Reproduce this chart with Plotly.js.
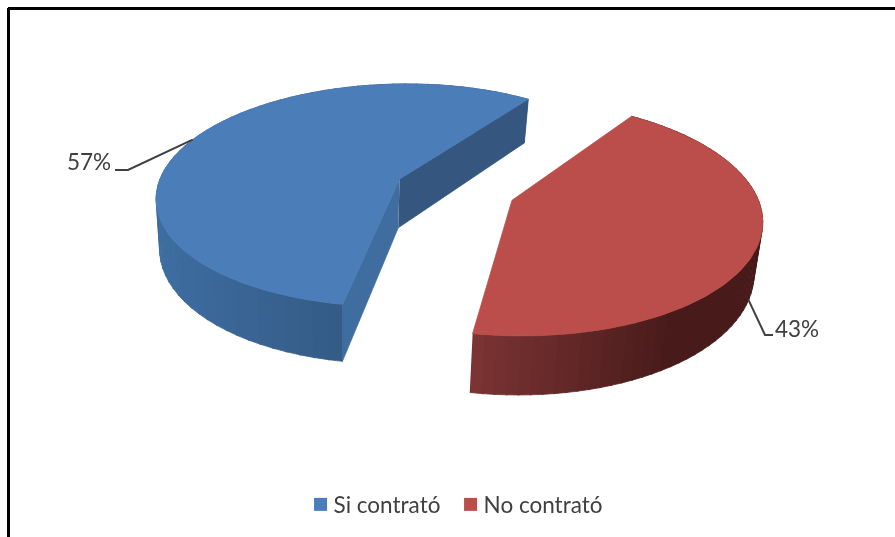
<!DOCTYPE html>
<html>
<head>
<meta charset="utf-8">
<script src="https://cdn.plot.ly/plotly-3.0.1.min.js"></script>
<style>
html,body{margin:0;padding:0;background:#fff;overflow:hidden}
#chart{width:895px;height:537px;filter:blur(0.6px)}
</style>
</head>
<body>
<div id="chart"></div>
<script>
// ---- chart values ----
const categories = ['Si contrató', 'No contrató'];
const shares = [57, 43];
const topColors = ['#4b7db9', '#bb4e4a'];
const wallLeft = ['#3e6da1', '#7b3333'];
const wallRight = ['#335a84', '#481a1a'];
const cutColors = ['#34567f', '#3f6d9f'];

// ---- perspective projection of the exploded pie disc onto the page ----
const discX = 455, discY = 189.5, radX = 243, radY = 112, persp = 0.148;
const explode = 0.25, depth = 49.5, bottomScale = 0.98, bottomShift = -2.5, startAngle = 55;

function toPage(u, v, bottom) {
  const w = 1 + persp * v;
  const s = bottom ? bottomScale : 1;
  return [discX + (bottom ? bottomShift : 0) + s * radX * u / w,
          discY - radY * v / w + (bottom ? depth / w : 0)];
}
function rimPoint(deg, mid, bottom) {
  const r = Math.PI / 180;
  return toPage(explode * Math.cos(mid * r) + Math.cos(deg * r),
                explode * Math.sin(mid * r) + Math.sin(deg * r), bottom);
}
function apexPoint(mid, bottom) {
  const r = Math.PI / 180;
  return toPage(explode * Math.cos(mid * r), explode * Math.sin(mid * r), bottom);
}
function hexMix(a, b, f) {
  const p = h => [1, 3, 5].map(k => parseInt(h.substr(k, 2), 16));
  const A = p(a), B = p(b);
  return 'rgb(' + A.map((c, k) => Math.round(c + (B[k] - c) * f)).join(',') + ')';
}
function poly(pts, color) {
  return {x: pts.map(p => p[0]), y: pts.map(p => p[1]), mode: 'lines', fill: 'toself',
          fillcolor: color, line: {color: color, width: 0.8}, hoverinfo: 'skip', showlegend: false};
}

const total = shares.reduce((a, b) => a + b, 0);
const traces = [], tops = [], mids = [];
const shadeStart = [155, 471], shadeSpan = [190, 200];
let from = startAngle;
shares.forEach((val, i) => {
  const sweep = val / total * 360, to = from + sweep, mid = from + sweep / 2;
  mids.push(mid);
  // outer wall, one thin band per step so the shading can change along the arc
  const step = sweep / 64;
  for (let k = 0; k < 64; k++) {
    const a = from + k * step, b = Math.min(to, a + step * 1.15);
    const p1 = rimPoint(a, mid, false);
    const f = Math.max(0, Math.min(1, (p1[0] - shadeStart[i]) / shadeSpan[i]));
    traces.push(poly([p1, rimPoint(b, mid, false), rimPoint(b, mid, true), rimPoint(a, mid, true)],
                     hexMix(wallLeft[i], wallRight[i], f)));
  }
  if (i === 0) {
    traces.push(poly([apexPoint(mid, false), rimPoint(from, mid, false), rimPoint(from, mid, true), apexPoint(mid, true)], cutColors[0]));
    traces.push(poly([apexPoint(mid, false), rimPoint(to, mid, false), rimPoint(to, mid, true), apexPoint(mid, true)], cutColors[1]));
  }
  // top face
  const pts = [apexPoint(mid, false)];
  for (let k = 0; k <= 120; k++) pts.push(rimPoint(from + sweep * k / 120, mid, false));
  pts.push(apexPoint(mid, false));
  tops.push(poly(pts, topColors[i]));
  from = to;
});
traces.push(...tops);

// leader lines start at the middle of each slice
const lead0 = rimPoint(mids[0], mids[0], false);
const lead1 = rimPoint(mids[1], mids[1], true);
const leaderColor = '#404040';
traces.push({x: [lead0[0], 128, 115], y: [lead0[1], 170, 170], mode: 'lines',
             line: {color: leaderColor, width: 2}, hoverinfo: 'skip', showlegend: false});
traces.push({x: [lead1[0], 765, 773], y: [lead1[1], 335, 335], mode: 'lines',
             line: {color: leaderColor, width: 2}, hoverinfo: 'skip', showlegend: false});

// legend entries
categories.forEach((name, i) => {
  traces.push({x: [null], y: [null], name: name, mode: 'markers', hoverinfo: 'skip',
               marker: {symbol: 'square', size: 13, color: topColors[i]}});
});

const textFont = {family: 'Lato, "Open Sans", sans-serif', size: 22.5, color: '#404040'};
const layout = {
  width: 895, height: 537, margin: {l: 0, r: 0, t: 0, b: 0},
  paper_bgcolor: '#ffffff', plot_bgcolor: '#ffffff',
  xaxis: {range: [0, 895], visible: false, fixedrange: true},
  yaxis: {range: [537, 0], visible: false, fixedrange: true},
  showlegend: true,
  legend: {orientation: 'h', x: 0.328, y: 0.02, xanchor: 'left', yanchor: 'bottom',
           font: textFont, entrywidth: 105, entrywidthmode: 'pixels', traceorder: 'normal',
           bgcolor: 'rgba(0,0,0,0)'},
  annotations: [
    {x: 113, y: 161, xanchor: 'right', yanchor: 'middle', text: shares[0] + '%', showarrow: false, font: textFont},
    {x: 773, y: 328, xanchor: 'left', yanchor: 'middle', text: shares[1] + '%', showarrow: false, font: textFont}
  ],
  shapes: [
    {type: 'line', xref: 'x', yref: 'y', x0: 8, x1: 895, y0: 8.5, y1: 8.5, line: {color: '#000', width: 3}},
    {type: 'line', xref: 'x', yref: 'y', x0: 8.5, x1: 8.5, y0: 8, y1: 537, line: {color: '#000', width: 3}}
  ]
};
Plotly.newPlot('chart', traces, layout, {displayModeBar: false, staticPlot: true}).then(() => {
  // tighten the gap between legend swatch and label, and let the last label show in full
  document.querySelectorAll('.legend .legendpoints').forEach(g => g.setAttribute('transform', 'translate(7,0)'));
  document.querySelectorAll('.legend .scrollbox').forEach(g => g.removeAttribute('clip-path'));
  document.querySelectorAll('.legend .groups, .legend .traces').forEach(g => g.removeAttribute('clip-path'));
});
</script>
</body>
</html>
